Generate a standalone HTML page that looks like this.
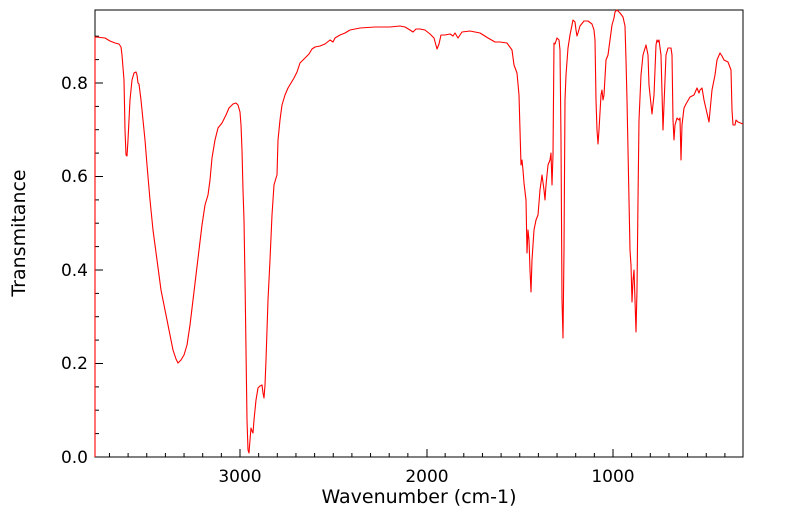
<!DOCTYPE html>
<html><head><meta charset="utf-8"><style>
body{margin:0;background:#fff}
svg{display:block}
text{font-family:"DejaVu Sans","Liberation Sans",sans-serif;font-size:17px;fill:#000}
</style></head><body>
<svg width="799" height="516" viewBox="0 0 799 516">
<rect x="95" y="10" width="648" height="447" fill="none" stroke="#000" stroke-width="1"/>
<g stroke="#000" stroke-width="1">
<line x1="95" y1="457" x2="103" y2="457"/><line x1="95" y1="363.5" x2="103" y2="363.5"/><line x1="95" y1="270" x2="103" y2="270"/><line x1="95" y1="176.5" x2="103" y2="176.5"/><line x1="95" y1="83" x2="103" y2="83"/>
<line x1="95" y1="433.6" x2="99" y2="433.6"/><line x1="95" y1="410.2" x2="99" y2="410.2"/><line x1="95" y1="386.9" x2="99" y2="386.9"/>
<line x1="95" y1="340.1" x2="99" y2="340.1"/><line x1="95" y1="316.7" x2="99" y2="316.7"/><line x1="95" y1="293.4" x2="99" y2="293.4"/>
<line x1="95" y1="246.6" x2="99" y2="246.6"/><line x1="95" y1="223.2" x2="99" y2="223.2"/><line x1="95" y1="199.9" x2="99" y2="199.9"/>
<line x1="95" y1="153.1" x2="99" y2="153.1"/><line x1="95" y1="129.7" x2="99" y2="129.7"/><line x1="95" y1="106.4" x2="99" y2="106.4"/>
<line x1="95" y1="59.6" x2="99" y2="59.6"/><line x1="95" y1="36.2" x2="99" y2="36.2"/>
<line x1="240" y1="457" x2="240" y2="449"/><line x1="427" y1="457" x2="427" y2="449"/><line x1="613" y1="457" x2="613" y2="449"/>
</g>
<g stroke="#000" stroke-width="1" id="mt"></g>
<text x="88" y="89" text-anchor="end">0.8</text><text x="88" y="182" text-anchor="end">0.6</text><text x="88" y="276" text-anchor="end">0.4</text><text x="88" y="369" text-anchor="end">0.2</text><text x="88" y="463" text-anchor="end">0.0</text>
<text x="240" y="482" text-anchor="middle">3000</text><text x="427" y="482" text-anchor="middle">2000</text><text x="613" y="482" text-anchor="middle">1000</text>
<text x="419" y="503" text-anchor="middle" style="font-size:19px">Wavenumber (cm-1)</text>
<text transform="translate(25,233) rotate(-90)" text-anchor="middle" style="font-size:19px">Transmitance</text>
<polyline fill="none" stroke="#f00" stroke-width="1.1" stroke-linejoin="round" points="95,457 95,37 96,37 105,38 110,41 115,43 119,44 121,47 122,55 124,80 125,130 126,155 127,156 128,140 130,100 132,80 134,73 136,72 137,75 138,83 139,84 141,100 143,120 145,140 147,165 150,200 153,230 157,260 161,290 164,305 167,320 170,335 173,350 176,359 178,363 181,360 184,355 187,345 190,325 193,300 196,275 199,250 202,225 205,205 208,195 210,180 212,158 215,140 218,128 222,123 226,115 229,108 233,104 236,103 238,105 240,112 241,125 242,150 243,190 244,220 245,280 246,350 247,420 248,450 249,453 250,440 251,428 252,431 253,433 254,420 256,400 258,388 260,386 262,385 263,393 264,398 265,385 266,360 267,330 268,300 270,260 272,215 274,185 276,178 277,175 278,140 280,120 282,105 285,95 288,88 291,83 294,78 297,72 300,63 303,60 306,57 309,54 312,49 315,47 320,46 325,44 330,40 333,42 335,38 340,35 345,33 350,30 355,29 360,28 375,27 390,27 400,26 405,27 410,30 413,32 416,29 420,29 425,30 430,34 434,38 437,49 439,44 441,35 445,35 450,34 453,36 455,33 458,38 462,32 470,31 480,33 488,38 495,42 500,42 507,43 512,50 514,65 517,73 519,95 520,130 521,165 522,160 523,170 524,183 526,200 527,253 528,230 529,240 530,270 531,292 532,260 534,230 536,220 538,215 540,190 542,175 544,190 545,200 546,185 548,165 550,160 551,153 552,185 553,155 554,43 555,44 556,41 557,38 559,40 560,50 561,140 562,300 563,338 564,250 565,100 566,75 568,48 570,35 572,25 573,20 575,22 576,30 577,36 578,33 580,26 584,21 588,21 592,24 594,30 595,40 596,100 597,130 598,144 599,130 601,95 602,90 603,100 604,95 606,60 608,55 610,40 612,25 614,18 615,12 617,10 620,13 623,17 625,26 626,60 627,100 628,150 629,200 630,250 631,265 632,302 633,280 634,270 635,300 636,332 637,290 638,200 639,120 641,75 643,55 646,45 648,55 649,85 652,114 654,95 656,45 657,40 658,42 659,40 661,55 663,130 664,105 666,55 668,48 671,48 672,55 673,120 674,140 675,125 677,118 679,120 680,118 681,160 682,125 684,108 686,104 690,97 694,95 697,88 699,93 700,90 702,88 704,100 709,122 712,90 715,75 717,60 720,53 722,56 724,60 728,62 731,70 732,110 733,125 735,125 736,120 738,122 743,124"/>
</svg>
<script>
var g=document.getElementById('mt');var s='';
for(var w=3700;w>=400;w-=100){if(w%1000==0)continue;var x=240+(3000-w)*0.1865;s+='<line x1="'+x+'" y1="457" x2="'+x+'" y2="453"/>';}
g.innerHTML=s;
</script>
</body></html>
